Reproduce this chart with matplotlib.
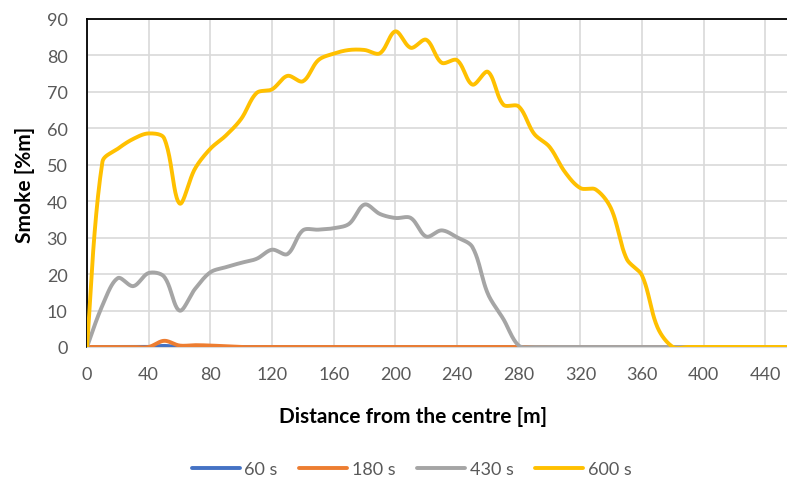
import numpy as np
import matplotlib
matplotlib.use("Agg")
from matplotlib import pyplot as plt

# Distance from the centre [m], sampled every 10 m
distance = np.arange(0, 470, 10)

smoke_60 = [0, 0, 0, 0, 0, 0.3, 0, 0, 0, 0,
            0, 0, 0, 0, 0, 0, 0, 0, 0, 0,
            0, 0, 0, 0, 0, 0, 0, 0, 0, 0,
            0, 0, 0, 0, 0, 0, 0, 0, 0, 0,
            0, 0, 0, 0, 0, 0, 0]
smoke_180 = [0, 0, 0, 0, 0, 1.7, 0.4, 0.5, 0.4, 0.2,
             0, 0, 0, 0, 0, 0, 0, 0, 0, 0,
             0, 0, 0, 0, 0, 0, 0, 0, 0, 0,
             0, 0, 0, 0, 0, 0, 0, 0, 0, 0,
             0, 0, 0, 0, 0, 0, 0]
smoke_430 = [0, 11.4, 18.9, 16.7, 20.3, 19.3, 10.0, 15.9, 20.5, 21.9,
             23.1, 24.2, 26.7, 25.5, 32.0, 32.2, 32.6, 33.8, 39.1, 36.5,
             35.4, 35.4, 30.3, 32.0, 30.1, 27.4, 14.6, 7.7, 0.4, 0,
             0, 0, 0, 0, 0, 0, 0, 0, 0, 0,
             0, 0, 0, 0, 0, 0, 0]
smoke_600 = [0, 50.8, 54.4, 57.1, 58.6, 57.3, 39.4, 48.9, 54.4, 58.0,
             62.6, 69.7, 70.7, 74.4, 72.9, 78.7, 80.5, 81.5, 81.5, 80.6,
             86.6, 82.1, 84.3, 78.0, 78.7, 72.0, 75.5, 66.5, 66.0, 58.5,
             54.9, 48.0, 43.6, 43.2, 37.9, 24.2, 19.6, 5.4, 0, 0,
             0, 0, 0, 0, 0, 0, 0]

labels = ["60 s", "180 s", "430 s", "600 s"]
colors = ["#4472C4", "#ED7D31", "#A5A5A5", "#FFC000"]

# rough screen aspect (pixels per data unit) used for the smoothing handles
X_SCALE, Y_SCALE = 1.542, 3.644


def smooth_curve(x, y, steps=24):
    """Bezier smoothing through every point, handles sized by chord length."""
    pts = np.column_stack([np.asarray(x) * X_SCALE, np.asarray(y) * Y_SCALE]).astype(float)
    n = len(pts)
    t = np.linspace(0, 1, steps)[:, None]
    out = []
    for i in range(n - 1):
        p0 = pts[max(i - 1, 0)]
        p1 = pts[i]
        p2 = pts[i + 1]
        p3 = pts[min(i + 2, n - 1)]
        l01 = np.linalg.norm(p1 - p0)
        l12 = np.linalg.norm(p2 - p1)
        l23 = np.linalg.norm(p3 - p2)
        c1 = p1 + (p2 - p0) * (l12 / (l01 + l12) / 3 if l01 > 0 else 1 / 6)
        c2 = p2 - (p3 - p1) * (l12 / (l12 + l23) / 3 if l23 > 0 else 1 / 6)
        seg = ((1 - t) ** 3 * p1 + 3 * (1 - t) ** 2 * t * c1
               + 3 * (1 - t) * t ** 2 * c2 + t ** 3 * p2)
        out.append(seg if i == 0 else seg[1:])
    out = np.vstack(out)
    return out[:, 0] / X_SCALE, out[:, 1] / Y_SCALE


plt.rcParams['font.family'] = ['Lato', 'DejaVu Sans']

fig = plt.figure(figsize=(7.87, 4.85), dpi=100)
ax = fig.add_axes([87 / 787, 137 / 485, 700 / 787, 328 / 485])

for series, label, color in zip([smoke_60, smoke_180, smoke_430, smoke_600], labels, colors):
    sx, sy = smooth_curve(distance, series)
    ax.plot(sx, sy, color=color, linewidth=2.8, label=label,
            solid_capstyle='round', zorder=3)

ax.set_xlim(0, 454)
ax.set_ylim(0, 90)
ax.set_xticks(np.arange(0, 441, 40))
ax.set_yticks(np.arange(0, 91, 10))
ax.grid(True, color="#D9D9D9", linewidth=1.2)
ax.set_axisbelow(True)
ax.tick_params(length=0, labelsize=13, colors="#595959")
ax.tick_params(axis='x', pad=14)
ax.tick_params(axis='y', pad=14)

for side in ['left', 'top']:
    ax.spines[side].set_color("black")
    ax.spines[side].set_linewidth(1.3)
ax.spines['right'].set_visible(False)
ax.spines['bottom'].set_color("#D9D9D9")

fig.text(0.525, 0.14, "Distance from the centre [m]", fontsize=15,
         fontweight='bold', ha='center', va='center')
fig.text(0.032, 0.619, "Smoke [%m]", fontsize=15, fontweight='bold',
         ha='center', va='center', rotation=90)

fig.legend(loc='center', bbox_to_anchor=(0.523, 0.03), ncol=4, frameon=False,
           fontsize=13, handlelength=2.66, columnspacing=1.2, handletextpad=0.25,
           labelcolor="#595959")

fig.savefig("out.png", dpi=100)
